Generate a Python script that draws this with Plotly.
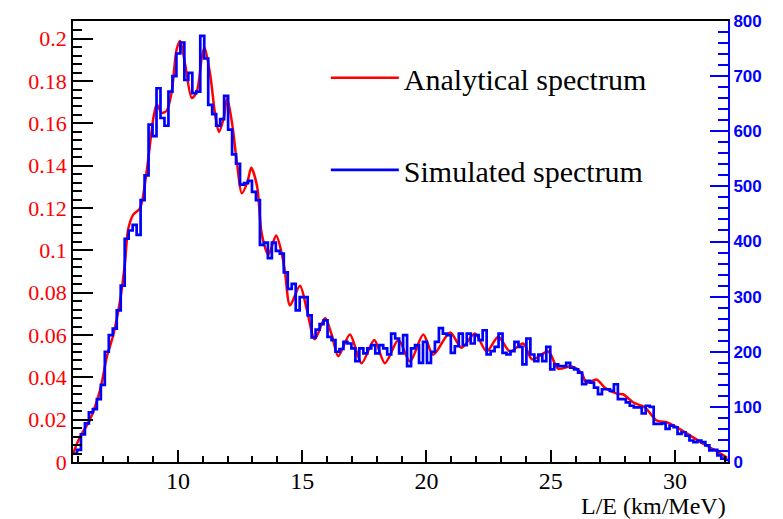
import numpy as np
import plotly.graph_objects as go

# Analytical spectrum (left axis, arbitrary units)
RED_X = [5.78, 6.06, 6.46, 6.87, 7.14, 7.40, 7.67, 7.87, 8.0, 8.21, 8.48, 8.75, 9.02, 9.15, 9.35, 9.55,
         9.75, 9.95, 10.09, 10.29, 10.56, 10.76, 10.96, 11.07, 11.3, 11.5, 11.65, 11.85, 11.98, 12.18,
         12.38, 12.57, 12.79, 12.95, 13.19, 13.37, 13.64, 13.95, 14.17, 14.31, 14.51, 14.91, 15.18,
         15.51, 15.92, 16.19, 16.45, 16.92, 17.39, 17.90, 18.33, 18.87, 19.34, 19.87, 20.27, 20.95,
         21.41, 21.95, 22.42, 22.89, 23.36, 23.89, 24.25, 24.90, 25.30, 25.84, 26.24, 26.44, 26.84,
         27.18, 27.65, 27.91, 28.32, 28.79, 29.26, 29.66, 30.06, 30.6, 31.13, 31.6, 32.1]
RED_Y = [0.004, 0.0118, 0.020, 0.034, 0.0496, 0.060, 0.076, 0.094, 0.110, 0.117, 0.120, 0.138, 0.163,
         0.169, 0.165, 0.166, 0.175, 0.195, 0.199, 0.188, 0.172, 0.175, 0.191, 0.196, 0.183, 0.164,
         0.156, 0.163, 0.172, 0.160, 0.141, 0.127, 0.132, 0.139, 0.130, 0.108, 0.098, 0.107, 0.099,
         0.0895, 0.074, 0.0833, 0.0724, 0.058, 0.068, 0.060, 0.050, 0.0603, 0.0467, 0.0576, 0.0467,
         0.0576, 0.0475, 0.0603, 0.0507, 0.0612, 0.054, 0.0607, 0.0522, 0.0592, 0.0522, 0.056, 0.0485,
         0.0522, 0.0441, 0.0452, 0.042, 0.0374, 0.039, 0.0351, 0.0323, 0.032, 0.0281, 0.0258, 0.0196,
         0.0188, 0.0165, 0.0126, 0.0087, 0.0056, 0.002]

# Simulated spectrum histogram (right axis, counts per bin)
BIN_START = 5.78
BIN_WIDTH = 0.16
SIM_COUNTS = [15, 22, 50, 70, 90, 96, 114, 140, 200, 230, 242, 275, 320, 405, 420, 430, 412, 475, 520,
              612, 591, 678, 624, 610, 672, 700, 741, 761, 693, 706, 669, 672, 773, 732, 648, 631, 610,
              622, 664, 603, 558, 541, 503, 506, 510, 490, 475, 394, 398, 370, 398, 383, 378, 344, 314,
              323, 275, 299, 299, 266, 226, 240, 250, 257, 227, 221, 200, 205, 218, 215, 206, 183, 206,
              197, 206, 212, 197, 212, 206, 195, 233, 224, 197, 230, 174, 206, 212, 180, 218, 180, 200,
              218, 243, 233, 230, 198, 210, 233, 212, 233, 215, 230, 221, 239, 195, 201, 209, 233, 198,
              195, 201, 218, 209, 177, 224, 195, 183, 195, 183, 209, 168, 177, 174, 174, 180, 171, 168,
              162, 141, 147, 144, 135, 123, 132, 132, 129, 141, 114, 114, 108, 102, 99, 99, 88, 102, 100,
              69, 69, 70, 60, 66, 63, 51, 54, 48, 39, 36, 39, 36, 30, 21, 22, 12, 6, 4]

X_TICKS = [10, 15, 20, 25, 30]
X_TITLE = "L/E (km/MeV)"

assert len(RED_X) == len(RED_Y)

edges = BIN_START + BIN_WIDTH * np.arange(len(SIM_COUNTS) + 1)
hx = list(edges)
hy = list(SIM_COUNTS) + [SIM_COUNTS[-1]]

fig = go.Figure()
fig.add_trace(go.Scatter(x=RED_X, y=RED_Y, mode="lines", name="Analytical spectrum",
                         line=dict(color="#ff0000", width=2.5, shape="spline", smoothing=0.8),
                         yaxis="y", legendgroup="a"))
fig.add_trace(go.Scatter(x=hx, y=hy, mode="lines", name="Simulated spectrum",
                         line=dict(color="#0000ff", width=2.7, shape="hv"),
                         yaxis="y2", legendgroup="b"))

serif = "Liberation Serif, Times New Roman, serif"
fig.update_layout(
    width=783, height=519,
    margin=dict(l=73, r=55, t=15, b=57),
    paper_bgcolor="white", plot_bgcolor="white",
    showlegend=True,
    legend=dict(x=0.386, y=0.93, xanchor="left", yanchor="top", itemwidth=68,
                font=dict(family=serif, size=30, color="black"),
                bgcolor="rgba(0,0,0,0)", traceorder="grouped", tracegroupgap=50),
    xaxis=dict(range=[5.78, 32.13], tickvals=X_TICKS, showgrid=False, zeroline=False,
               showline=True, linecolor="black", linewidth=1.5, mirror=True,
               ticks="inside", ticklen=12, tickwidth=1.5, tickcolor="black",
               minor=dict(dtick=1, tick0=0, ticks="inside", ticklen=6, tickwidth=1.5, tickcolor="black"),
               ticklabelstandoff=-4,
               tickfont=dict(family=serif, size=24, color="black")),
    yaxis=dict(range=[0, 0.2084], dtick=0.02, tick0=0, showgrid=False, zeroline=False,
               showline=True, linecolor="black", linewidth=1.5,
               ticks="inside", ticklen=20, tickwidth=1.5, tickcolor="black",
               minor=dict(dtick=0.004, tick0=0, ticks="inside", ticklen=9, tickwidth=1.5, tickcolor="black"),
               tickfont=dict(family=serif, size=22, color="#ff0000")),
    yaxis2=dict(range=[0, 800], dtick=100, tick0=0, overlaying="y", side="right",
                showgrid=False, zeroline=False, showline=True, linecolor="#0000ff", linewidth=2,
                ticks="inside", ticklen=18, tickwidth=1.5, tickcolor="#0000ff",
                minor=dict(dtick=20, tick0=0, ticks="inside", ticklen=10, tickwidth=1.5, tickcolor="#0000ff"),
                tickfont=dict(family="Liberation Sans, Arial, sans-serif", size=17, color="#0000ff", weight="bold")),
    annotations=[dict(text=X_TITLE, xref="paper", yref="paper", x=1.0, y=-0.1,
                      xanchor="right", yanchor="middle", showarrow=False,
                      font=dict(family=serif, size=24, color="black"))],
)

fig.write_html("out.html")
